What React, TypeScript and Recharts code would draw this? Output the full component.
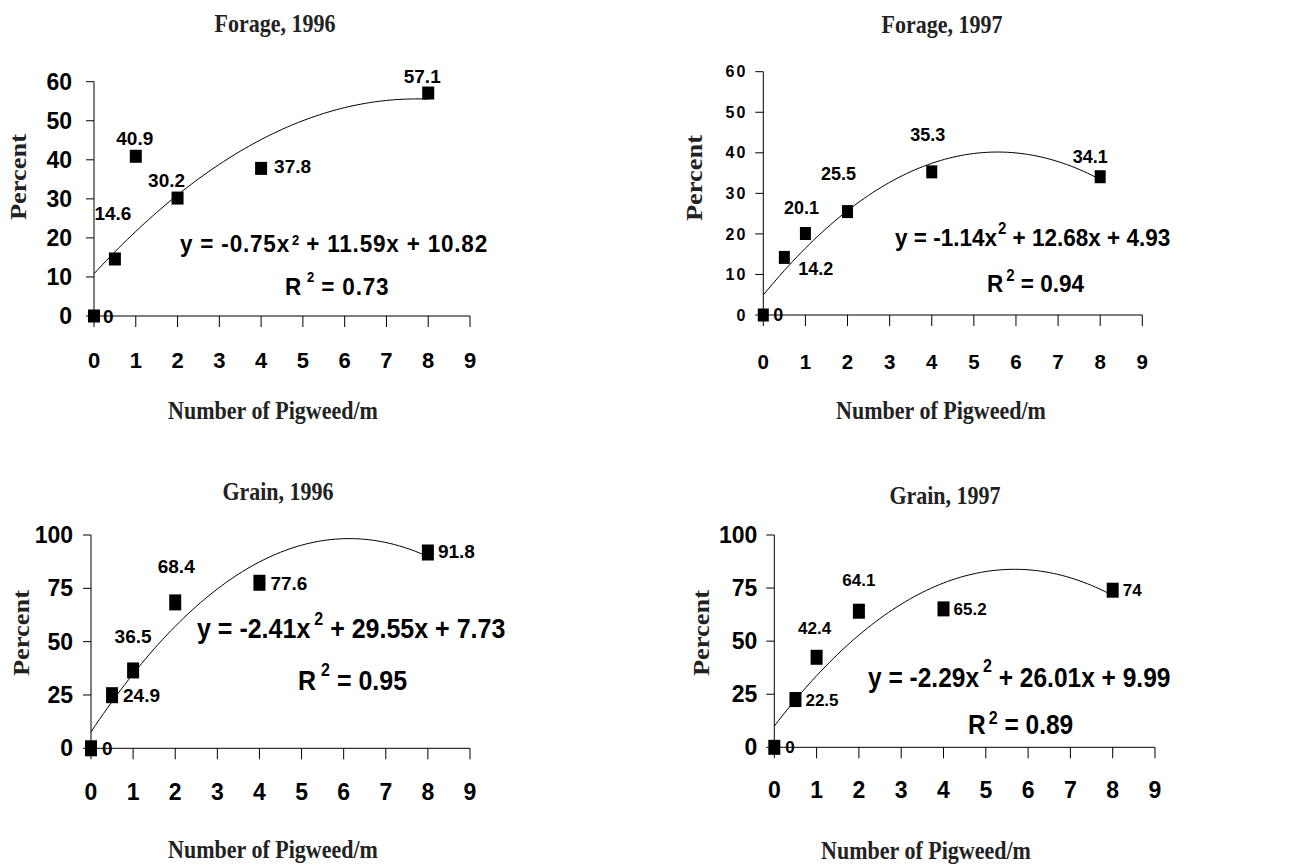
import React from 'react';
import { ScatterChart, Scatter, XAxis, YAxis } from 'recharts';

// ---------- data ----------
const densities = [0, 0.5, 1, 2, 4, 8];
const xTicks = [0, 1, 2, 3, 4, 5, 6, 7, 8, 9];
const forageYTicks = [0, 10, 20, 30, 40, 50, 60];
const grainYTicks = [0, 25, 50, 75, 100];

const forage96 = [0, 14.6, 40.9, 30.2, 37.8, 57.1];
const forage97 = [0, 14.2, 20.1, 25.5, 35.3, 34.1];
const grain96 = [0, 24.9, 36.5, 68.4, 77.6, 91.8];
const grain97 = [0, 22.5, 42.4, 64.1, 65.2, 74];

// quadratic fit coefficients shown on the chart: a x^2 + b x + c
const forage96Fit = [-0.75, 11.59, 10.82];
const forage97Fit = [-1.14, 12.68, 4.93];
const grain96Fit = [-2.41, 29.55, 7.73];
const grain97Fit = [-2.29, 26.01, 9.99];

const forage96R2 = '0.73';
const forage97R2 = '0.94';
const grain96R2 = '0.95';
const grain97R2 = '0.89';

const titles = ['Forage, 1996', 'Forage, 1997', 'Grain, 1996', 'Grain, 1997'];
const xAxisTitle = 'Number of Pigweed/m';
const yAxisTitle = 'Percent';

// ---------- layout (positions / styles) ----------
type Off = [string, number, number];
const forage96LabelOffsets: Off[] = [['start', 9, 0], ['middle', -2, -46], ['middle', -1, -18], ['middle', -11, -18], ['start', 13, -2], ['middle', -6, -17]];
const forage97LabelOffsets: Off[] = [['start', 10, 0], ['start', 14, 11], ['middle', -4, -26], ['middle', -9, -38], ['middle', -4, -37], ['middle', -10, -20]];
const grain96LabelOffsets: Off[] = [['start', 11, 0], ['start', 11, 0], ['middle', 0, -34], ['middle', 1, -36], ['start', 11, 0], ['start', 10, -1]];
const grain97LabelOffsets: Off[] = [['start', 11, 0], ['start', 10, 0], ['middle', -2, -29], ['middle', 0, -31], ['start', 10, 0], ['start', 10, 0]];

const SANS = '"Liberation Sans", Arial, sans-serif';
const SERIF = '"Liberation Serif", "Times New Roman", serif';

const fmt = (v: number) => v.toFixed(2);

const panels = [
  {
    title: titles[0], values: forage96, fit: forage96Fit, r2: forage96R2, offsets: forage96LabelOffsets,
    yTicks: forageYTicks, yMax: 60,
    box: { left: 0, top: 0, w: 650, h: 430 },
    plot: { l: 94, r: 470, t: 81.7, b: 316 },
    yTickFont: 23, yTickLs: 0, xTickFont: 22, xTickMargin: 25, yTickMargin: 14, labelFont: 19, marker: [12, 13],
    titlePos: [275, 23.5], xTitlePos: [273, 411], yTitlePos: [17.5, 177],
    eq: { left: 180, cy: 245, size: 22.5, ls: 0.8, supX: { size: 13, raise: 7, gap: 2 }, r2Left: 285, r2cy: 288, supR: { size: 13, raise: 12, gap: 5 }, sy: 1.08 },
  },
  {
    title: titles[1], values: forage97, fit: forage97Fit, r2: forage97R2, offsets: forage97LabelOffsets,
    yTicks: forageYTicks, yMax: 60,
    box: { left: 650, top: 0, w: 652, h: 430 },
    plot: { l: 763.3, r: 1142.3, t: 71.7, b: 315 },
    yTickFont: 16, yTickLs: 2, xTickFont: 20.5, xTickMargin: 28, yTickMargin: 8, labelFont: 18, marker: [11, 13],
    titlePos: [942, 25], xTitlePos: [941, 411], yTitlePos: [693.5, 177.5],
    eq: { left: 895, cy: 239, size: 22.5, ls: 0, supX: { size: 15, raise: 11, gap: 1 }, r2Left: 987, r2cy: 285, supR: { size: 15, raise: 10, gap: 3 }, sy: 1.1 },
  },
  {
    title: titles[2], values: grain96, fit: grain96Fit, r2: grain96R2, offsets: grain96LabelOffsets,
    yTicks: grainYTicks, yMax: 100,
    box: { left: 0, top: 430, w: 650, h: 435 },
    plot: { l: 91, r: 470, t: 535, b: 748.3 },
    yTickFont: 23, yTickLs: 0, xTickFont: 23, xTickMargin: 24, yTickMargin: 10, labelFont: 19, marker: [12, 16],
    titlePos: [278, 491.7], xTitlePos: [273, 850], yTitlePos: [21, 632.5],
    eq: { left: 197, cy: 629, size: 25, ls: 0, supX: { size: 16, raise: 12, gap: 4 }, r2Left: 298, r2cy: 681, supR: { size: 16, raise: 13, gap: 5 }, sy: 1.1 },
  },
  {
    title: titles[3], values: grain97, fit: grain97Fit, r2: grain97R2, offsets: grain97LabelOffsets,
    yTicks: grainYTicks, yMax: 100,
    box: { left: 650, top: 430, w: 652, h: 435 },
    plot: { l: 774.3, r: 1155, t: 535, b: 747.3 },
    yTickFont: 23, yTickLs: 0, xTickFont: 23, xTickMargin: 23.5, yTickMargin: 9, labelFont: 17, marker: [12, 15],
    titlePos: [945, 495.7], xTitlePos: [926, 851], yTitlePos: [700.5, 632.5],
    eq: { left: 868, cy: 678, size: 24.5, ls: 0, supX: { size: 16, raise: 13, gap: 4 }, r2Left: 968, r2cy: 725, supR: { size: 16, raise: 9, gap: 3 }, sy: 1.1 },
  },
];

const Y_AXIS_W = 80;
const X_AXIS_H = 60;

function Sup({ s, children }: { s: { size: number; raise: number; gap: number }; children: React.ReactNode }) {
  return (
    <span style={{ fontSize: s.size, position: 'relative', top: -s.raise, marginLeft: s.gap, letterSpacing: 0 }}>{children}</span>
  );
}

function Panel({ p }: { p: (typeof panels)[number] }) {
  const { box, plot } = p;
  const margin = {
    left: plot.l - box.left - Y_AXIS_W,
    right: box.left + box.w - plot.r,
    top: plot.t - box.top,
    bottom: box.top + box.h - plot.b - X_AXIS_H,
  };
  const points = densities.map((x, i) => ({ x, y: p.values[i], i }));
  const [a, b, c] = p.fit;
  const curve: { x: number; y: number }[] = [];
  for (let k = 0; k <= 80; k++) {
    const x = k / 10;
    curve.push({ x, y: a * x * x + b * x + c });
  }
  const [mw, mh] = p.marker;

  const renderPoint = (props: any) => {
    const { cx, cy, payload } = props;
    if (cx == null || cy == null) return <g />;
    const idx = payload?.i ?? 0;
    const [anchor, dx, dy] = p.offsets[idx];
    return (
      <g>
        <rect x={cx - mw / 2} y={cy - mh / 2} width={mw} height={mh} fill="#000" />
        <text
          x={cx + dx}
          y={cy + dy}
          dy="0.36em"
          textAnchor={anchor as any}
          fontFamily={SANS}
          fontWeight="bold"
          fontSize={p.labelFont}
          fill="#000"
        >
          {String(p.values[idx])}
        </text>
      </g>
    );
  };

  const txt: React.CSSProperties = { position: 'absolute', whiteSpace: 'nowrap', lineHeight: 1, color: '#111' };

  return (
    <>
      <div style={{ position: 'absolute', left: box.left, top: box.top }}>
        <ScatterChart width={box.w} height={box.h} margin={margin}>
          <XAxis
            type="number"
            dataKey="x"
            domain={[0, 9]}
            ticks={xTicks}
            interval={0}
            height={X_AXIS_H}
            axisLine={{ stroke: '#000', strokeWidth: 1 }}
            tickLine={{ stroke: '#000', strokeWidth: 1 }}
            tickSize={11}
            tickMargin={p.xTickMargin}
            tick={{ fill: '#000', fontFamily: SANS, fontWeight: 'bold', fontSize: p.xTickFont }}
          />
          <YAxis
            type="number"
            dataKey="y"
            domain={[0, p.yMax]}
            ticks={p.yTicks}
            interval={0}
            width={Y_AXIS_W}
            axisLine={{ stroke: '#000', strokeWidth: 1 }}
            tickLine={{ stroke: '#000', strokeWidth: 1 }}
            tickSize={8}
            tickMargin={p.yTickMargin}
            tick={{ fill: '#000', fontFamily: SANS, fontWeight: 'bold', fontSize: p.yTickFont, letterSpacing: p.yTickLs }}
          />
          <Scatter
            data={curve}
            line={{ stroke: '#000', strokeWidth: 1 }}
            lineType="joint"
            shape={() => <g />}
            isAnimationActive={false}
          />
          <Scatter data={points} shape={renderPoint} isAnimationActive={false} />
        </ScatterChart>
      </div>
      <div style={{ ...txt, left: p.titlePos[0], top: p.titlePos[1], transform: 'translate(-50%,-50%) scaleY(1.15)', fontFamily: SERIF, fontWeight: 'bold', fontSize: 22, color: '#222' }}>
        {p.title}
      </div>
      <div style={{ ...txt, left: p.xTitlePos[0], top: p.xTitlePos[1], transform: 'translate(-50%,-50%) scaleY(1.15)', fontFamily: SERIF, fontWeight: 'bold', fontSize: 22, color: '#222' }}>
        {xAxisTitle}
      </div>
      <div style={{ ...txt, left: p.yTitlePos[0], top: p.yTitlePos[1], transform: 'translate(-50%,-50%) rotate(-90deg) scaleX(1.15)', fontFamily: SERIF, fontWeight: 'bold', fontSize: 23, color: '#222' }}>
        {yAxisTitle}
      </div>
      <div style={{ ...txt, left: p.eq.left, top: p.eq.cy, transform: `translate(0,-50%) scaleY(${p.eq.sy})`, fontFamily: SANS, fontWeight: 'bold', fontSize: p.eq.size, letterSpacing: p.eq.ls, color: '#000' }}>
        {`y = ${fmt(a)}x`}
        <Sup s={p.eq.supX}>2</Sup>
        {` + ${fmt(b)}x + ${fmt(c)}`}
      </div>
      <div style={{ ...txt, left: p.eq.r2Left, top: p.eq.r2cy, transform: `translate(0,-50%) scaleY(${p.eq.sy})`, fontFamily: SANS, fontWeight: 'bold', fontSize: p.eq.size, letterSpacing: p.eq.ls, color: '#000' }}>
        R
        <Sup s={p.eq.supR}>2</Sup>
        {` = ${p.r2}`}
      </div>
    </>
  );
}

export default function App() {
  return (
    <div style={{ position: 'absolute', left: 0, top: 0, width: 1302, height: 865, background: '#fff', overflow: 'hidden' }}>
      {panels.map((p) => (
        <Panel key={p.title} p={p} />
      ))}
    </div>
  );
}
